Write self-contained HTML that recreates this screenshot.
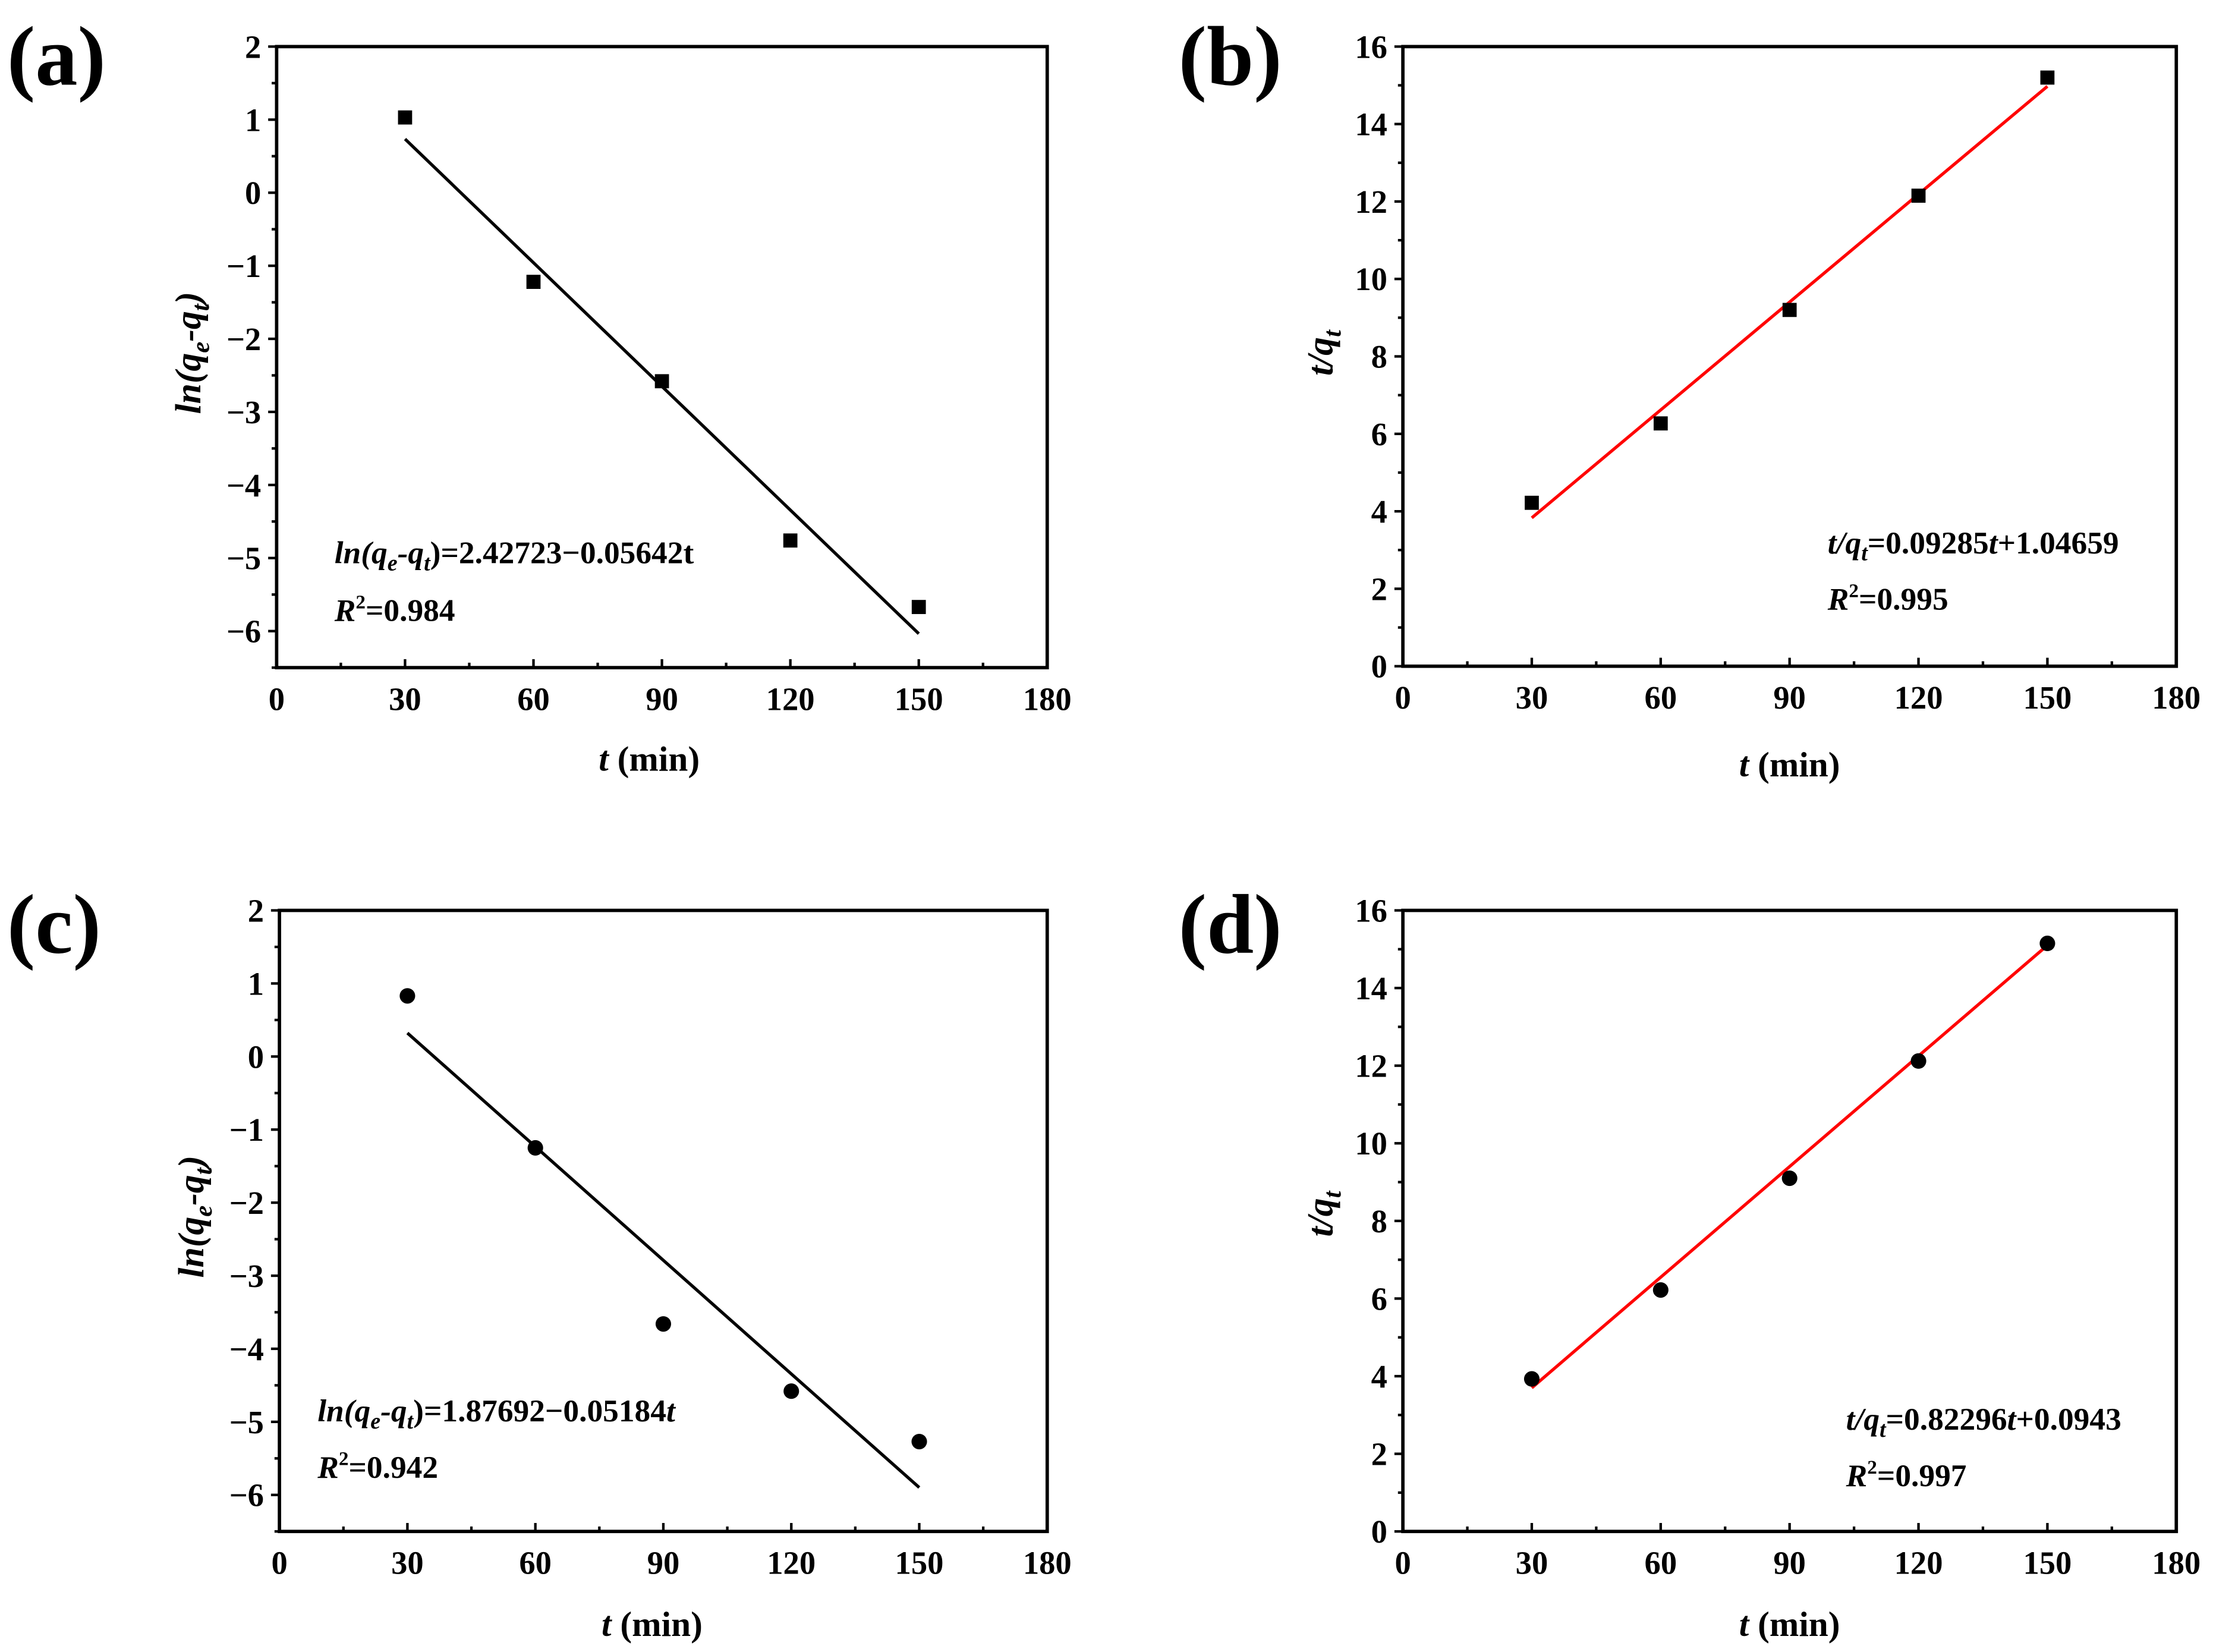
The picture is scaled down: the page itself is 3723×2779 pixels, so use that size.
<!DOCTYPE html>
<html><head><meta charset="utf-8"><style>
html,body{margin:0;padding:0;background:#fff}
svg{display:block;font-family:"Liberation Serif",serif;font-weight:bold}
</style></head><body>
<svg id="fig" width="3723" height="2779" viewBox="0 0 1568 1170.4" xmlns="http://www.w3.org/2000/svg"></svg>
<script>
const times = [30, 60, 90, 120, 150];
const seriesA = [1.03, -1.22, -2.58, -4.76, -5.67];
const seriesB = [4.22, 6.27, 9.2, 12.15, 15.2];
const seriesC = [0.83, -1.25, -3.66, -4.58, -5.27];
const seriesD = [3.93, 6.22, 9.1, 12.12, 15.15];
const fitIntercepts = [2.42723, 1.04659, 1.87692, 0.85];
const fitSlopes = [-0.05642, 0.09285, -0.05184, 0.095];
const xTicks = [0, 30, 60, 90, 120, 150, 180];
const yTicksLn = [2, 1, 0, -1, -2, -3, -4, -5, -6];
const yTicksTq = [0, 2, 4, 6, 8, 10, 12, 14, 16];

const NS = "http://www.w3.org/2000/svg";
const svg = document.getElementById('fig');
function mk(tag, attrs, parent) {
  const e = document.createElementNS(NS, tag);
  for (const k in attrs) e.setAttribute(k, attrs[k]);
  (parent || svg).appendChild(e);
  return e;
}
const panels = [
  {id:'a', L:196, R:742, T:33, B:473, ymin:-6.5, ymax:2, yt:yTicksLn, ym:0.5, data:seriesA, color:'#000', marker:'square',
   lab:[5,60], ylab:[133,250], xlab:[460,546], eq:[237,399], r2:[237,440], kind:'ln', eqText:'=2.42723\u22120.05642t', r2t:'=0.984'},
  {id:'b', L:994, R:1542, T:33, B:472, ymin:0, ymax:16, yt:yTicksTq, ym:1, data:seriesB, color:'#ff0000', marker:'square',
   lab:[835,60], ylab:[935,250], xlab:[1268,550], eq:[1295,392], r2:[1295,432], kind:'tq', eqText:['=0.09285','t','+1.04659'], r2t:'=0.995'},
  {id:'c', L:198, R:742, T:645, B:1085, ymin:-6.5, ymax:2, yt:yTicksLn, ym:0.5, data:seriesC, color:'#000', marker:'circle',
   lab:[5,675], ylab:[135,862], xlab:[462,1159], eq:[225,1007], r2:[225,1047], kind:'ln', eqText:['=1.87692\u22120.05184','t',''], r2t:'=0.942'},
  {id:'d', L:994, R:1542, T:645, B:1085, ymin:0, ymax:16, yt:yTicksTq, ym:1, data:seriesD, color:'#ff0000', marker:'circle',
   lab:[835,675], ylab:[935,860], xlab:[1268,1159], eq:[1308,1013], r2:[1308,1053], kind:'tq', eqText:['=0.82296','t','+0.0943'], r2t:'=0.997'}
];

panels.forEach((p, i) => {
  const g = mk('g', {});
  
  
  const xs = v => p.L + (v - 0) / 180 * (p.R - p.L);
  const ys = v => p.B - (v - p.ymin) / (p.ymax - p.ymin) * (p.B - p.T);
  const pl = mk('text', {x:p.lab[0], y:p.lab[1], 'font-size':60}, g);
  pl.textContent = '(' + p.id + ')';
  
  
  const fr = mk('rect', {x:p.L, y:p.T, width:p.R-p.L, height:p.B-p.T, fill:'none', stroke:'#000', 'stroke-width':2.4}, g);
  
  
  for (let v = 0; v <= 180; v += 15) {
    const major = v % 30 === 0;
    mk('line', {x1:xs(v), x2:xs(v), y1:p.B, y2:p.B-(major?6:3.5), stroke:'#000', 'stroke-width':1.8}, g);
  }
  xTicks.forEach(v => {
    const t = mk('text', {x:xs(v), y:p.B+30, 'font-size':23, 'text-anchor':'middle'}, g);
    t.textContent = v;
    
    
  });
  for (let v = p.ymin; v <= p.ymax + 1e-9; v += p.ym) {
    const major = p.yt.some(t => Math.abs(t - v) < 1e-9);
    mk('line', {x1:p.L, x2:p.L-(major?6:3.5), y1:ys(v), y2:ys(v), stroke:'#000', 'stroke-width':1.8}, g);
  }
  p.yt.forEach(v => {
    const t = mk('text', {x:p.L-11, y:ys(v)+8, 'font-size':23, 'text-anchor':'end'}, g);
    t.textContent = v < 0 ? '\u2212' + (-v) : v;
    
    
  });
  const xt = mk('text', {x:p.xlab[0], y:p.xlab[1], 'font-size':25, 'text-anchor':'middle'}, g);
  xt.innerHTML = '<tspan font-style="italic">t</tspan> (min)';
  
  
  const yt = mk('text', {x:0, y:0, 'font-size':26, 'text-anchor':'middle', 'font-style':'italic', transform:`translate(${p.ylab[0]+9},${p.ylab[1]}) rotate(-90)`}, g);
  if (p.kind === 'ln') yt.innerHTML = 'ln(q<tspan font-size="18" dy="6">e</tspan><tspan dy="-6">-q</tspan><tspan font-size="18" dy="6">t</tspan><tspan dy="-6">)</tspan>';
  else yt.innerHTML = 't/q<tspan font-size="18" dy="6">t</tspan>';
  
  
  const a = fitIntercepts[i], b = fitSlopes[i];
  const fl = mk('line', {x1:xs(times[0]), y1:ys(a + b*times[0]), x2:xs(times[times.length-1]), y2:ys(a + b*times[times.length-1]), stroke:p.color, 'stroke-width':2.2}, g);
  
  
  p.data.forEach((v, j) => {
    let m;
    if (p.marker === 'square') m = mk('rect', {x:xs(times[j])-5, y:ys(v)-5, width:10, height:10, fill:'#000'}, g);
    else m = mk('circle', {cx:xs(times[j]), cy:ys(v), r:5.5, fill:'#000'}, g);
    
    
  });
  const eq = mk('text', {x:p.eq[0], y:p.eq[1], 'font-size':22.5}, g);
  if (p.kind === 'ln') {
    const tail = Array.isArray(p.eqText) ? p.eqText : [p.eqText, '', ''];
    eq.innerHTML = '<tspan font-style="italic">ln(q</tspan><tspan font-size="16" dy="5" font-style="italic">e</tspan><tspan dy="-5" font-style="italic">-q</tspan><tspan font-size="16" dy="5" font-style="italic">t</tspan><tspan dy="-5">)' + tail[0] + '</tspan><tspan font-style="italic">' + tail[1] + '</tspan>' + tail[2];
  } else {
    eq.innerHTML = '<tspan font-style="italic">t/q</tspan><tspan font-size="16" dy="5" font-style="italic">t</tspan><tspan dy="-5">' + p.eqText[0] + '</tspan><tspan font-style="italic">' + p.eqText[1] + '</tspan>' + p.eqText[2];
  }
  
  
  const r2 = mk('text', {x:p.r2[0], y:p.r2[1], 'font-size':22.5}, g);
  r2.innerHTML = '<tspan font-style="italic">R</tspan><tspan font-size="14" dy="-9">2</tspan><tspan dy="9">' + p.r2t + '</tspan>';
  
  
});
</script>
</body></html>
